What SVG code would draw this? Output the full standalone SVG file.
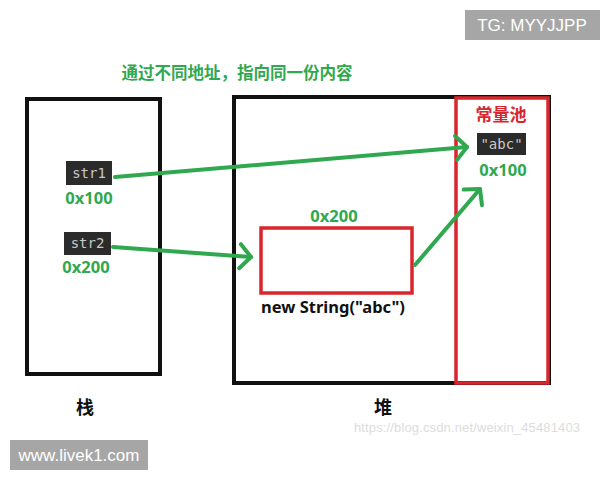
<svg xmlns="http://www.w3.org/2000/svg" width="600" height="480" viewBox="0 0 600 480">
<defs>
<style>
.box{fill:none;stroke:#111;stroke-width:4}
.red{fill:none;stroke:#d8262d;stroke-width:3.5}
.g{fill:#2fa84f;font-family:"Noto Sans","Open Sans",sans-serif;font-weight:700;font-size:16.5px;text-anchor:middle}
.cjk{font-family:"Noto Sans CJK SC",sans-serif;font-weight:700}
.code{fill:#2b2b2b}
.codet{fill:#c8c8c8;font-family:"DejaVu Sans Mono",monospace;font-size:14px;text-anchor:middle}
.badge{fill:#a6a6a6}
.badget{fill:#fff;font-family:"Liberation Sans",Arial,sans-serif;font-size:17px;text-anchor:middle}
.conn{fill:none;stroke:#2fa84f;stroke-width:4;stroke-linecap:round;marker-end:url(#chev)}
</style>
<marker id="chev" markerUnits="userSpaceOnUse" markerWidth="30" markerHeight="30" viewBox="-15 -15 30 30" refX="0" refY="0" orient="auto">
<path d="M-11,-12 L0,0 L-11,12" fill="none" stroke="#2fa84f" stroke-width="4" stroke-linecap="round" stroke-linejoin="round"/>
</marker>
</defs>
<rect width="600" height="480" fill="#fff"/>
<g id="tg"><rect class="badge" x="465" y="10" width="135" height="30"/><text class="badget" x="532" y="31">TG: MYYJJPP</text></g>
<g id="title"><text class="g cjk" x="237" y="79" font-size="17.5">通过不同地址，指向同一份内容</text></g>
<g id="stack">
<rect class="box" x="27" y="99" width="133" height="275"/>
<text class="cjk" x="85" y="414" font-size="18" text-anchor="middle" fill="#111">栈</text>
</g>
<g id="heap">
<rect class="box" x="234" y="97" width="315" height="286"/>
<text class="cjk" x="383" y="414" font-size="18" text-anchor="middle" fill="#111">堆</text>
</g>
<g id="pool">
<rect class="red" x="456" y="98" width="92" height="285"/>
<text class="cjk" x="501" y="121" font-size="17" text-anchor="middle" fill="#d8262d">常量池</text>
<rect class="code" x="477" y="133" width="49" height="22"/>
<text class="codet" x="501.5" y="149">"abc"</text>
<text class="g" x="503" y="176">0x100</text>
</g>
<g id="str1">
<rect class="code" x="66" y="161" width="46" height="24"/>
<text class="codet" x="89" y="178">str1</text>
<text class="g" x="89" y="204">0x100</text>
</g>
<g id="str2">
<rect class="code" x="64" y="232" width="47" height="23"/>
<text class="codet" x="87.5" y="248">str2</text>
<text class="g" x="86" y="273">0x200</text>
</g>
<g id="newstr">
<rect class="red" x="261" y="228" width="151" height="65"/>
<text class="g" x="334" y="222">0x200</text>
<text x="333" y="313" font-family="'Noto Sans','Open Sans',sans-serif" font-weight="700" font-size="16.5" text-anchor="middle" fill="#111">new String("abc")</text>
</g>
<g id="connectors">
<path class="conn" d="M115,177 L467,147"/>
<path class="conn" d="M113,247 L251,257"/>
<path class="conn" d="M415,265 L480,189"/>
</g>
<g id="watermark"><text x="467" y="432" font-family="'Liberation Sans',Arial,sans-serif" font-size="13" fill="#dcdcdc" text-anchor="middle" textLength="226">https://blog.csdn.net/weixin_45481403</text></g>
<g id="site"><rect class="badge" x="10" y="440" width="138" height="30"/><text class="badget" x="79" y="461">www.livek1.com</text></g>
</svg>
